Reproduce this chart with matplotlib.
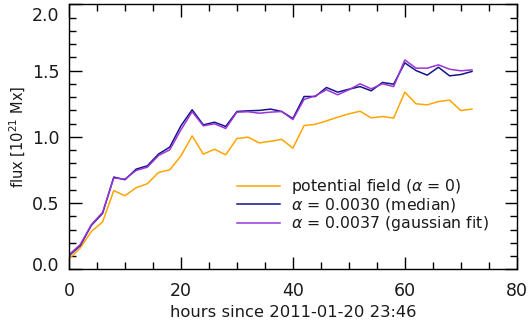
import numpy as np
import matplotlib
matplotlib.use("Agg")
import matplotlib.pyplot as plt
import matplotlib.transforms as mtransforms
from matplotlib.ticker import MultipleLocator, FormatStrFormatter

hours = list(range(0, 74, 2))

flux_potential = [0.078, 0.161, 0.286, 0.357, 0.594, 0.555, 0.616, 0.646, 0.731, 0.751,
                  0.856, 1.007, 0.869, 0.906, 0.864, 0.987, 0.997, 0.954, 0.966, 0.981,
                  0.914, 1.085, 1.094, 1.120, 1.148, 1.173, 1.193, 1.143, 1.153, 1.141,
                  1.337, 1.249, 1.241, 1.266, 1.277, 1.198, 1.209]

flux_median = [0.103, 0.178, 0.332, 0.422, 0.696, 0.676, 0.756, 0.781, 0.870, 0.922,
               1.083, 1.204, 1.090, 1.110, 1.078, 1.191, 1.196, 1.199, 1.209, 1.191,
               1.138, 1.304, 1.304, 1.372, 1.337, 1.359, 1.379, 1.347, 1.410, 1.397,
               1.558, 1.500, 1.465, 1.525, 1.460, 1.470, 1.493]

flux_gauss = [0.110, 0.186, 0.337, 0.430, 0.689, 0.681, 0.746, 0.771, 0.859, 0.902,
              1.053, 1.189, 1.083, 1.098, 1.063, 1.186, 1.189, 1.178, 1.186, 1.191,
              1.130, 1.282, 1.309, 1.355, 1.317, 1.355, 1.400, 1.362, 1.400, 1.379,
              1.580, 1.518, 1.518, 1.543, 1.510, 1.498, 1.505]

labels = [r"potential field ($\alpha$ = 0)",
          r"$\alpha$ = 0.0030 (median)",
          r"$\alpha$ = 0.0037 (gaussian fit)"]
colors = ["#FFA500", "#14148A", "#9A35D6"]

plt.rcParams["font.family"] = ["DejaVu Sans"]
plt.rcParams["mathtext.fontset"] = "dejavusans"
txt_color = "#1a1a1a"

fig = plt.figure(figsize=(5.28, 3.25), dpi=100)
ax = fig.add_axes([0.1307, 0.1714, 0.848, 0.8154])

for y, c, lab in zip([flux_potential, flux_median, flux_gauss], colors, labels):
    ax.plot(hours, y, color=c, lw=1.1, label=lab)

ax.set_xlim(0, 80)
ax.set_ylim(0, 2.0)
ax.xaxis.set_major_locator(MultipleLocator(20))
ax.xaxis.set_minor_locator(MultipleLocator(5))
ax.yaxis.set_major_locator(MultipleLocator(0.5))
ax.yaxis.set_minor_locator(MultipleLocator(0.1))
ax.yaxis.set_major_formatter(FormatStrFormatter("%.1f"))
ax.tick_params(which="both", direction="in", top=True, right=True, width=1,
               labelsize=12.5, labelcolor=txt_color)
ax.tick_params(axis="x", which="major", pad=9)
ax.tick_params(axis="y", which="major", pad=7)
ax.tick_params(which="major", length=9)
ax.tick_params(which="minor", length=5)
for s in ax.spines.values():
    s.set_linewidth(1)

ax.set_xlabel("hours since 2011-01-20 23:46", fontsize=11.8, labelpad=4,
              color=txt_color)
ax.set_ylabel(r"flux $[10^{21}$ Mx$]$", fontsize=10.5, color=txt_color)
ax.yaxis.set_label_coords(-0.092, 0.5)

# keep the end labels of the y axis inside the figure
fig.canvas.draw()
ylabels = ax.get_yticklabels()
shift_top = mtransforms.ScaledTranslation(0, -7 / 72, fig.dpi_scale_trans)
shift_bot = mtransforms.ScaledTranslation(0, 4 / 72, fig.dpi_scale_trans)
for lab in ylabels:
    if lab.get_text() == "2.0":
        lab.set_transform(lab.get_transform() + shift_top)
    elif lab.get_text() == "0.0":
        lab.set_transform(lab.get_transform() + shift_bot)

leg = ax.legend(loc="upper left", bbox_to_anchor=(0.362, 0.371), frameon=False,
                fontsize=11.3, handlelength=2.7, handletextpad=0.7,
                labelspacing=0.0, borderaxespad=0)
for t in leg.get_texts():
    t.set_color(txt_color)

fig.savefig("out.png", dpi=100)
